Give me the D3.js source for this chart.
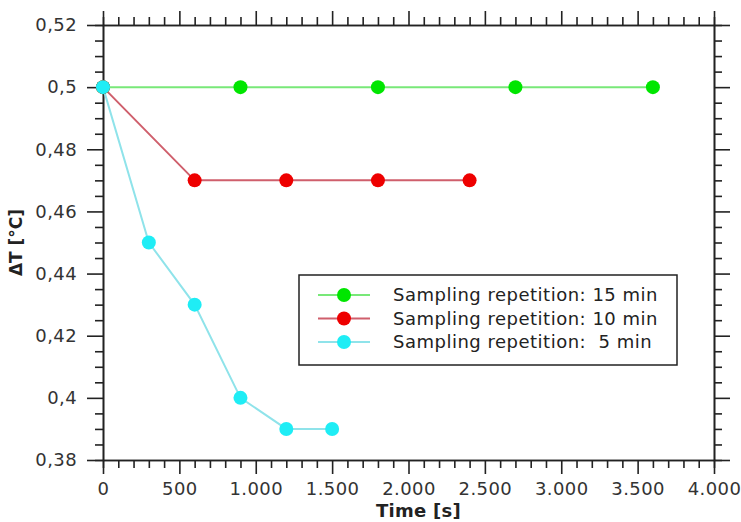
<!DOCTYPE html>
<html>
<head>
<meta charset="utf-8">
<script src="https://cdn.jsdelivr.net/npm/d3@7"></script>
<style>
  body { margin: 0; background: #fff; }
  text { font-family: "DejaVu Sans", sans-serif; }
</style>
</head>
<body>
<div id="chart"></div>
<script>
// data
var times15 = [0, 900, 1800, 2700, 3600];
var values15 = [0.5, 0.5, 0.5, 0.5, 0.5];
var times10 = [0, 600, 1200, 1800, 2400];
var values10 = [0.5, 0.47, 0.47, 0.47, 0.47];
var times5 = [0, 300, 600, 900, 1200, 1500];
var values5 = [0.5, 0.45, 0.43, 0.40, 0.39, 0.39];

var seriesNames = ["Sampling repetition: 15 min", "Sampling repetition: 10 min", "Sampling repetition:  5 min"];
var xTicks = [0, 500, 1000, 1500, 2000, 2500, 3000, 3500, 4000];
var yTicks = [0.38, 0.40, 0.42, 0.44, 0.46, 0.48, 0.50, 0.52];

var svgWidth = 741;
var svgHeight = 522;
var margin = {top: 25, right: 27, left: 103, bottom: 62};
var chartWidth = svgWidth - margin.left - margin.right;
var chartHeight = svgHeight - margin.top - margin.bottom;

var svg = d3.select("#chart").append("svg")
  .attr("width", svgWidth)
  .attr("height", svgHeight);

var chartGroup = svg.append("g")
  .attr("transform", `translate(${margin.left}, ${margin.top})`);

var xScale = d3.scaleLinear().domain([0, 4000]).range([0, chartWidth]);
var yScale = d3.scaleLinear().domain([0.38, 0.52]).range([chartHeight, 0]);

// german style number formats
var locale = d3.formatLocale({decimal: ",", thousands: ".", grouping: [3], currency: ["", "€"]});
var xFmt = locale.format(",.0f");
var yFmt = locale.format(".2~f");

var xMinor = d3.range(0, 4001, 100).filter(d => d % 500 !== 0);
var yMinor = d3.range(0, 29).map(i => 0.38 + i * 0.005).filter((d, i) => i % 4 !== 0);

function styleAxis(g) {
  g.select(".domain").attr("stroke", "#222").attr("stroke-width", 1.6);
  g.selectAll(".tick line").attr("stroke", "#222").attr("stroke-width", 1.6);
  g.selectAll(".tick text").attr("fill", "#333")
    .style("font-size", "18px")
    .style("letter-spacing", "0.4px");
}

// bottom axis
chartGroup.append("g").attr("transform", `translate(0, ${chartHeight})`)
  .call(d3.axisBottom(xScale).tickValues(xMinor).tickSize(8).tickFormat(""))
  .call(styleAxis);
chartGroup.append("g").attr("transform", `translate(0, ${chartHeight})`)
  .call(d3.axisBottom(xScale).tickValues(xTicks).tickSize(14).tickPadding(8).tickFormat(xFmt).tickSizeOuter(0))
  .call(styleAxis);

// top axis
chartGroup.append("g")
  .call(d3.axisTop(xScale).tickValues(xMinor).tickSize(8).tickFormat(""))
  .call(styleAxis);
chartGroup.append("g")
  .call(d3.axisTop(xScale).tickValues(xTicks).tickSize(14).tickFormat("").tickSizeOuter(0))
  .call(styleAxis);

// left axis
chartGroup.append("g")
  .call(d3.axisLeft(yScale).tickValues(yMinor).tickSize(8).tickFormat(""))
  .call(styleAxis);
chartGroup.append("g")
  .call(d3.axisLeft(yScale).tickValues(yTicks).tickSize(16).tickPadding(10).tickFormat(yFmt).tickSizeOuter(0))
  .call(styleAxis);

// right axis
chartGroup.append("g").attr("transform", `translate(${chartWidth}, 0)`)
  .call(d3.axisRight(yScale).tickValues(yMinor).tickSize(8).tickFormat(""))
  .call(styleAxis);
chartGroup.append("g").attr("transform", `translate(${chartWidth}, 0)`)
  .call(d3.axisRight(yScale).tickValues(yTicks).tickSize(16).tickFormat("").tickSizeOuter(0))
  .call(styleAxis);

// series
var series = [
  {name: seriesNames[0], t: times15, v: values15, line: "#78e878", dot: "#00e600"},
  {name: seriesNames[1], t: times10, v: values10, line: "#cf5f6c", dot: "#ee0000"},
  {name: seriesNames[2], t: times5, v: values5, line: "#8fe3ea", dot: "#1fedf5"}
];

var line = d3.line().x(d => xScale(d[0])).y(d => yScale(d[1]));

series.forEach(function(s) {
  var pts = s.t.map((t, i) => [t, s.v[i]]);
  chartGroup.append("path")
    .attr("d", line(pts))
    .attr("fill", "none")
    .attr("stroke", s.line)
    .attr("stroke-width", 2);
});
// dots after all lines, cyan ends up on top at t=0
series.forEach(function(s) {
  var pts = s.t.map((t, i) => [t, s.v[i]]);
  chartGroup.selectAll(null)
    .data(pts)
    .enter()
    .append("circle")
    .attr("cx", d => xScale(d[0]))
    .attr("cy", d => yScale(d[1]))
    .attr("r", 7)
    .attr("fill", s.dot);
});

// legend
var legend = svg.append("g").attr("transform", "translate(299, 275)");
legend.append("rect")
  .attr("width", 378)
  .attr("height", 90)
  .attr("fill", "#fff")
  .attr("stroke", "#222")
  .attr("stroke-width", 1.5);

series.forEach(function(s, i) {
  var y = 20 + i * 23.5;
  legend.append("line")
    .attr("x1", 19).attr("x2", 71)
    .attr("y1", y).attr("y2", y)
    .attr("stroke", s.line)
    .attr("stroke-width", 2);
  legend.append("circle")
    .attr("cx", 45).attr("cy", y).attr("r", 7)
    .attr("fill", s.dot);
  legend.append("text")
    .attr("x", 94)
    .attr("y", y)
    .attr("dy", "0.35em")
    .attr("fill", "#222")
    .style("font-size", "18px")
    .style("letter-spacing", "0.5px")
    .style("white-space", "pre")
    .text(s.name);
});

// axis titles
svg.append("text")
  .attr("transform", `translate(${margin.left + chartWidth / 2 + 10}, 517)`)
  .attr("text-anchor", "middle")
  .style("font-size", "18px")
  .style("font-weight", "bold")
  .style("letter-spacing", "0.3px")
  .attr("fill", "#222")
  .text("Time [s]");

svg.append("text")
  .attr("transform", `translate(22, ${margin.top + chartHeight / 2}) rotate(-90)`)
  .attr("text-anchor", "middle")
  .style("font-size", "17px")
  .style("font-weight", "bold")
  .attr("fill", "#222")
  .text("ΔT [°C]");
</script>
</body>
</html>
